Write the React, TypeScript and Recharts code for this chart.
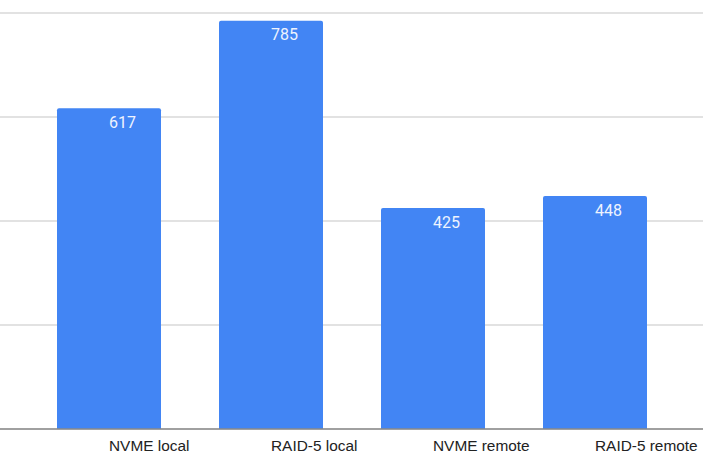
import React from 'react';
import { BarChart, Bar, XAxis, YAxis, CartesianGrid, LabelList } from 'recharts';

const categories = ['NVME local', 'RAID-5 local', 'NVME remote', 'RAID-5 remote'];
const values = [617, 785, 425, 448];
const yTicks = [0, 200, 400, 600, 800];

const data = categories.map((name, i) => ({ name, value: values[i] }));

// labels start at the bar centre, like the original sheet export
const CategoryTick = ({ x, y, payload }: any) => (
  <text
    x={x}
    y={y + 8}
    textAnchor="start"
    dominantBaseline="central"
    fill="#222"
    fontSize={15.4}
    fontFamily="'Liberation Sans', Arial, sans-serif"
  >
    {payload.value}
  </text>
);

const ValueLabel = ({ x, y, width, value }: any) => (
  <text
    x={x + width / 2}
    y={y + 14}
    textAnchor="start"
    dominantBaseline="central"
    fill="#eef3fe"
    fontSize={16}
    fontFamily="Roboto, sans-serif"
  >
    {value}
  </text>
);

const App: React.FC = () => {
  return (
    <div style={{ position: 'absolute', left: 0, top: 0, width: 703, height: 454, background: '#fff' }}>
      <BarChart width={703} height={454} data={data} margin={{ top: 13, right: 0, left: 0, bottom: 0 }}>
        <CartesianGrid vertical={false} stroke="#d9d9d9" strokeWidth={1.5} />
        <XAxis
          dataKey="name"
          padding={{ left: 28, right: 27 }}
          height={25}
          tickLine={false}
          axisLine={{ stroke: '#8a8a8a', strokeWidth: 1.5 }}
          tick={<CategoryTick />}
          interval={0}
        />
        <YAxis hide domain={[0, 800]} ticks={yTicks} />
        <Bar dataKey="value" fill="#4285f4" barSize={104} radius={[2, 2, 0, 0]} isAnimationActive={false}>
          <LabelList dataKey="value" content={<ValueLabel />} />
        </Bar>
      </BarChart>
    </div>
  );
};

export default App;
